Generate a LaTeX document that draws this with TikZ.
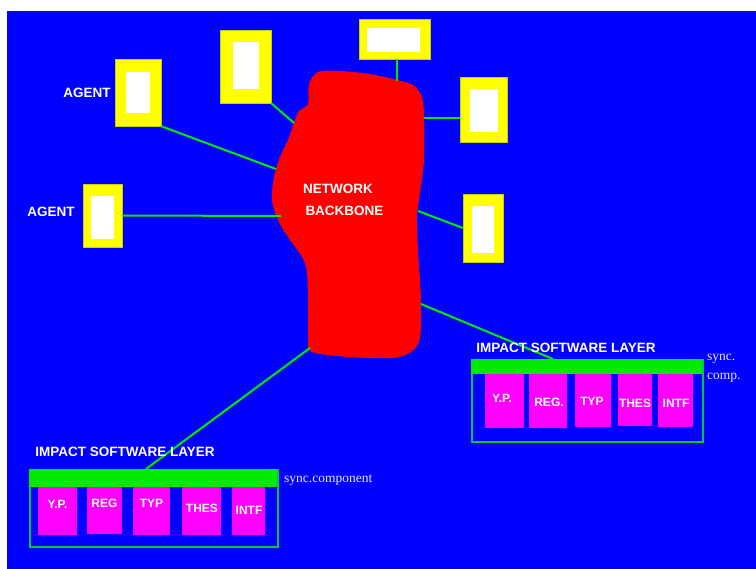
\documentclass[tikz,border=0pt]{standalone}
\usepackage{fontspec}
\setmainfont{Liberation Sans}
\newfontfamily\serifx{Liberation Serif}
\definecolor{bgblue}{RGB}{0,0,255}
\definecolor{blobred}{RGB}{255,0,0}
\definecolor{boxyellow}{RGB}{255,255,0}
\definecolor{linkgreen}{RGB}{0,235,0}
\definecolor{outlinegreen}{RGB}{0,200,60}
\definecolor{compmag}{RGB}{255,0,255}
\definecolor{notewhite}{RGB}{232,232,255}
\begin{document}
\begin{tikzpicture}[x=1pt,y=-1pt,
  ybox/.style={fill=boxyellow,draw=boxyellow!80!black,line width=0.4pt,inner sep=0pt},
  wbox/.style={fill=white,draw=none,inner sep=0pt},
  link/.style={draw=linkgreen,line width=2pt},
  lbl/.style={text=white,font=\bfseries\fontsize{13.5}{13.5}\selectfont,inner sep=0pt},
  clbl/.style={text=white,font=\bfseries\fontsize{12}{12}\selectfont,inner sep=0pt},
  note/.style={text=notewhite,font=\serifx\fontsize{13.5}{14}\selectfont,inner sep=0pt,anchor=west},
  bar/.style={fill=linkgreen,draw=none,inner sep=0pt},
  frame/.style={draw=outlinegreen,line width=1.6pt,inner sep=0pt},
  mbox/.style={fill=compmag,draw=none,inner sep=0pt}]
\useasboundingbox (0,0) rectangle (756,569);
\fill[white] (0,0) rectangle (756,569);
\fill[bgblue] (7,11) rectangle (756,569);

% network backbone blob
\fill[blobred] plot[smooth cycle,tension=0.5] coordinates {
 (318,72) (340,71) (370,74) (397,80) (413,85) (422,97) (424,117) (424,160)
 (420,193) (417,215) (418,250) (421,300) (420,338) (411,352) (392,358)
 (348,357) (312,352) (308,340) (308,310) (307,273) (302,257) (288,237)
 (278,220) (272,200) (274,177) (280,157) (288,140) (294,123) (299,111)
 (308,104) (309,84)};
\coordinate (b1) at (276,169);
\coordinate (b2) at (294,123);
\coordinate (b3) at (281,216);
\coordinate (b4) at (397,81);
\coordinate (b5) at (424,118);
\coordinate (b6) at (418,211);
\coordinate (b7) at (421,304);
\coordinate (b8) at (310,348);

% agent boxes
\node[ybox,minimum width=46,minimum height=67] (a1) at (138,92.5) {};
\node[wbox,minimum width=24,minimum height=41] (a1w) at (138,92.5) {};
\node[ybox,minimum width=51,minimum height=73] (a2) at (245.5,66.5) {};
\node[wbox,minimum width=26,minimum height=47] (a2w) at (246,65.5) {};
\node[ybox,minimum width=39,minimum height=63] (a3) at (102.5,215.5) {};
\node[wbox,minimum width=23,minimum height=43] (a3w) at (102.5,217.5) {};
\node[ybox,minimum width=71,minimum height=40] (a4) at (394.5,39) {};
\node[wbox,minimum width=53,minimum height=24] (a4w) at (393.5,40) {};
\node[ybox,minimum width=47,minimum height=65] (a5) at (483.5,109.5) {};
\node[wbox,minimum width=28,minimum height=43] (a5w) at (484,110.5) {};
\node[ybox,minimum width=40,minimum height=68] (a6) at (483,228) {};
\node[wbox,minimum width=22,minimum height=47] (a6w) at (483,229.5) {};

% software layers
\node[frame,minimum width=231,minimum height=82,anchor=north west] (r) at (471,359) {};
\node[bar,minimum width=231,minimum height=15,anchor=north west] (rbar) at (471,359) {};
\node[frame,minimum width=248,minimum height=77,anchor=north west] (l) at (29,469) {};
\node[bar,minimum width=248,minimum height=18,anchor=north west] (lbar) at (29,469) {};

% connectors
\draw[link] (a1.south east) -- (b1);
\draw[link] (a2.south east) -- (b2);
\draw[link] (a3.east) -- (b3);
\draw[link] (a4.south -| b4) -- (b4);
\draw[link] (b5) -- (b5 -| a5.west);
\draw[link] (b6) -- (a6.west);
\draw[link] (b7) -- (rbar.north -| 553,0);
\draw[link] (b8) -- (lbar.north -| 146,0);

% right components
\node[mbox,minimum width=39,minimum height=54] (r1) at (504.5,401) {};
\node[mbox,minimum width=38,minimum height=54] (r2) at (548,401) {};
\node[mbox,minimum width=36,minimum height=53] (r3) at (593,400.5) {};
\node[mbox,minimum width=34,minimum height=52] (r4) at (635,400) {};
\node[mbox,minimum width=35,minimum height=53] (r5) at (675.5,400.5) {};
\node[clbl] at (502,398) {Y.P.};
\node[clbl] at (549,402) {REG.};
\node[clbl] at (592,401) {TYP};
\node[clbl] at (635,403) {THES};
\node[clbl] at (676,403) {INTF};

% left components
\node[mbox,minimum width=39,minimum height=48] (l1) at (57.5,511) {};
\node[mbox,minimum width=35,minimum height=47] (l2) at (104.5,510.5) {};
\node[mbox,minimum width=37,minimum height=48] (l3) at (151.5,511) {};
\node[mbox,minimum width=39,minimum height=48] (l4) at (201.5,511) {};
\node[mbox,minimum width=33,minimum height=48] (l5) at (248.5,511) {};
\node[clbl] at (57.5,504) {Y.P.};
\node[clbl] at (104.5,503) {REG};
\node[clbl] at (151.5,503) {TYP};
\node[clbl] at (202,508) {THES};
\node[clbl] at (249,510) {INTF};

% texts
\node[lbl] (t1) at (87,93) {AGENT};
\node[lbl] (t2) at (51,212) {AGENT};
\node[lbl] (t3) at (338,189) {NETWORK};
\node[lbl] (t4) at (344.5,211) {BACKBONE};
\node[lbl] (t5) at (566,348) {IMPACT SOFTWARE LAYER};
\node[lbl] (t6) at (125,452) {IMPACT SOFTWARE LAYER};
\node[note] (t7) at (707,359) {sync.};
\node[note] (t8) at (707,378) {comp.};
\node[note] (t9) at (284,480) {sync.component};
\end{tikzpicture}
\end{document}
